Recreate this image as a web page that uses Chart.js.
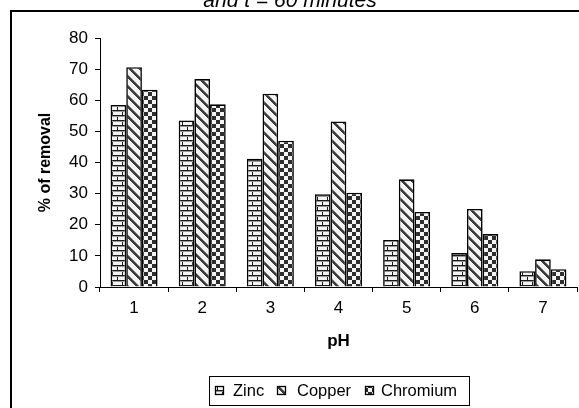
<!DOCTYPE html>
<html>
<head>
<meta charset="utf-8">
<script src="https://cdn.jsdelivr.net/npm/chart.js@4/dist/chart.umd.min.js"></script>
<style>
  html, body { margin: 0; padding: 0; background: #fff; }
  #wrap { width: 579px; height: 408px; position: relative; }
</style>
</head>
<body>
<div id="wrap"><canvas id="myChart" width="579" height="408"></canvas></div>
<script>
const phLabels = ['1', '2', '3', '4', '5', '6', '7'];
const zinc = [58.5, 53.5, 41.2, 29.8, 15.1, 10.9, 5.1];
const copper = [70.6, 66.8, 62.1, 53.2, 34.6, 25.1, 8.9];
const chromium = [63.4, 58.7, 47.0, 30.3, 24.1, 17.0, 5.7];
const seriesNames = ['Zinc', 'Copper', 'Chromium'];

const FONT = "'Liberation Sans', Arial, sans-serif";

// little fill patterns, like the old excel b/w hatches
function makePattern(kind) {
    const c = document.createElement('canvas');
    let w = 10, h = 10;
    if (kind == 'check') { w = 8; h = 8; }
    c.width = w; c.height = h;
    const g = c.getContext('2d');
    g.fillStyle = '#f4f4f4';
    g.fillRect(0, 0, w, h);
    if (kind == 'brick') {
        g.fillStyle = '#1a1a1a';
        g.fillRect(0, 0, w, 1);
        g.fillRect(0, 5, w, 1);
        g.fillRect(2, 0, 1, 5);
        g.fillRect(7, 5, 1, 5);
        g.fillStyle = '#999';
        g.fillRect(0, 1, w, 1);
        g.fillRect(0, 6, w, 1);
    } else if (kind == 'diag') {
        for (let x = 0; x < w; x++) {
            for (let y = 0; y < h; y++) {
                const d = ((x - y) % 10 + 10) % 10;
                if (d < 3) { g.fillStyle = '#3c3c3c'; g.fillRect(x, y, 1, 1); }
                else if (d == 3) { g.fillStyle = '#8a8a8a'; g.fillRect(x, y, 1, 1); }
            }
        }
    } else {
        g.fillStyle = '#2e2e2e';
        g.fillRect(0, 0, 4, 4);
        g.fillRect(4, 4, 4, 4);
    }
    return g.createPattern(c, 'repeat');
}

const patterns = [makePattern('brick'), makePattern('diag'), makePattern('check')];

const framePlugin = {
    id: 'frame',
    beforeDraw(chart) {
        const ctx = chart.ctx;
        ctx.save();
        ctx.fillStyle = '#fff';
        ctx.fillRect(0, 0, chart.width, chart.height);
        ctx.strokeStyle = '#000';
        ctx.lineWidth = 2;
        ctx.strokeRect(11, 11, chart.width + 20, chart.height + 20);
        // cut off title from the figure above
        ctx.fillStyle = '#000';
        ctx.font = 'italic 21px ' + FONT;
        ctx.textAlign = 'center';
        ctx.textBaseline = 'alphabetic';
        ctx.fillText('and t = 60 minutes', 290, 7);
        ctx.restore();
    },
    afterDraw(chart) {
        const ctx = chart.ctx;
        ctx.save();
        ctx.strokeStyle = '#000';
        ctx.lineWidth = 1;
        ctx.strokeRect(209.5, 376.5, 260, 29);
        ctx.font = '16.5px ' + FONT;
        ctx.textBaseline = 'middle';
        ctx.fillStyle = '#000';
        const sw = [215, 277, 365];
        const tx = [233, 297, 381];
        for (let i = 0; i < 3; i++) {
            ctx.fillStyle = patterns[i];
            ctx.fillRect(sw[i], 386, 8, 8);
            ctx.lineWidth = 1.3;
            ctx.strokeRect(sw[i] + 0.5, 386.5, 8, 8);
            ctx.fillStyle = '#000';
            ctx.fillText(seriesNames[i], tx[i], 391);
        }
        ctx.restore();
    }
};

Chart.defaults.color = '#000';
Chart.defaults.font.family = FONT;
Chart.defaults.font.size = 17;

const ctx = document.getElementById('myChart');
const datasets = [zinc, copper, chromium].map((data, i) => {
    return {
        label: seriesNames[i],
        data: data,
        backgroundColor: patterns[i],
        borderColor: '#000',
        borderWidth: 1.6,
        borderSkipped: 'bottom'
    };
});

new Chart(ctx, {
    type: 'bar',
    data: { labels: phLabels, datasets: datasets },
    plugins: [framePlugin],
    options: {
        responsive: false,
        animation: { duration: 0 },
        layout: { padding: { left: 36, top: 38, right: 2, bottom: 56 } },
        datasets: { bar: { categoryPercentage: 0.69, barPercentage: 1 } },
        plugins: {
            legend: { display: false },
            tooltip: { enabled: false }
        },
        scales: {
            x: {
                afterFit: (s) => { s.height = 65; },
                grid: { offset: true, drawOnChartArea: false, drawTicks: true, tickLength: 5, color: '#000' },
                border: { color: '#000', width: 1 },
                ticks: { padding: 6, font: { size: 17 } },
                title: { display: true, text: 'pH', font: { size: 17, weight: 'bold' }, padding: 0 }
            },
            y: {
                min: 0, max: 80,
                afterFit: (s) => { s.width = 64; },
                grid: { drawOnChartArea: false, drawTicks: true, tickLength: 5, color: '#000' },
                border: { color: '#000', width: 1 },
                ticks: { stepSize: 10, padding: 7, font: { size: 17 } },
                title: { display: true, text: '% of removal', font: { size: 16, weight: 'bold' }, padding: 0 }
            }
        }
    }
});
</script>
</body>
</html>
